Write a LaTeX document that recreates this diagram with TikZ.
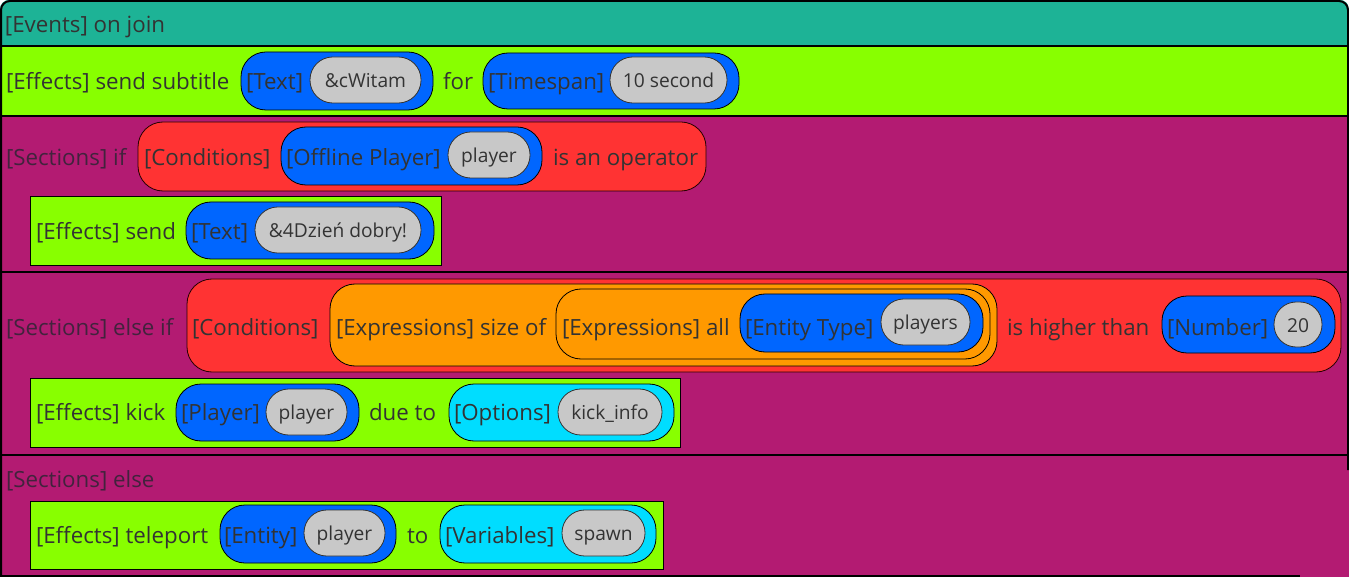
\documentclass[tikz,border=0pt]{standalone}
\usepackage{fontspec}
\setmainfont{Open Sans}
\definecolor{evteal}{HTML}{1DB396}
\definecolor{effgreen}{HTML}{88FF00}
\definecolor{secpurple}{HTML}{B31B72}
\definecolor{condred}{HTML}{FF3333}
\definecolor{typeblue}{HTML}{0066FF}
\definecolor{exporange}{HTML}{FF9900}
\definecolor{optcyan}{HTML}{00DDFF}
\definecolor{valgray}{HTML}{C8C8C8}
\definecolor{ink}{HTML}{333333}
\definecolor{secink}{HTML}{42233D}

% a rounded block spanning (x1,y1)-(x2,y2), corner radius capped at 25
\newcommand\blk[6]{%
  \pgfmathsetmacro\bw{#5-#3}%
  \pgfmathsetmacro\bh{#6-#4}%
  \pgfmathsetmacro\br{min(25,\bh/2-0.3)}%
  \node[#2, minimum width=\bw pt, minimum height=\bh pt, rounded corners=\br pt]
    (#1) at ({(#3+#5)/2},{(#4+#6)/2}) {};}
% a grey value pill with its text
\newcommand\val[6]{%
  \pgfmathsetmacro\bw{#5-#3}%
  \pgfmathsetmacro\bh{#6-#4}%
  \pgfmathsetmacro\br{min(25,\bh/2-0.3)}%
  \node[value, minimum width=\bw pt, minimum height=\bh pt, rounded corners=\br pt]
    (#1) at ({(#3+#5)/2},{(#4+#6)/2}) {#2};}

\begin{document}
\begin{tikzpicture}[x=1pt,y=-1pt,
  every node/.style={inner sep=0pt, outer sep=0pt},
  band/.style={rectangle, anchor=north west},
  sepline/.style={line width=2pt, black},
  effbox/.style={rectangle, fill=effgreen, draw=black, line width=1pt},
  cond/.style={rectangle, fill=condred, draw=black!85!red, line width=0.8pt},
  typ/.style={rectangle, fill=typeblue, draw=black, line width=0.8pt},
  expr/.style={rectangle, fill=exporange, draw=black, line width=0.8pt},
  opt/.style={rectangle, fill=optcyan, draw=black, line width=0.8pt},
  value/.style={rectangle, fill=valgray, draw=black!80, line width=0.8pt,
    text=ink, font=\fontsize{19.2}{23}\selectfont, text height=15pt, text depth=0pt},
  txt/.style={anchor=base west, text=ink, font=\fontsize{22.3}{27}\selectfont},
  sec/.style={txt, text=secink},
]
\useasboundingbox (0,0) rectangle (1349,577);

% background bands
\begin{scope}
  \clip[rounded corners=9pt] (0,0) rectangle (1349,590);
  \node[band, fill=evteal, minimum width=1349pt, minimum height=47pt] (evband) at (0,0) {};
  \node[band, fill=effgreen, minimum width=1349pt, minimum height=70pt] (subband) at (0,46.5) {};
  \node[band, fill=secpurple, minimum width=1349pt, minimum height=156pt] (ifband) at (0,116.5) {};
  \node[band, fill=secpurple, minimum width=1349pt, minimum height=182pt] (elifband) at (0,272.5) {};
  \node[band, fill=secpurple, minimum width=1349pt, minimum height=123pt] (elseband) at (0,454.5) {};
\end{scope}
\draw[sepline] (subband.north west) -- (subband.north east);
\draw[sepline] (ifband.north west) -- (ifband.north east);
\draw[sepline] (elifband.north west) -- (elifband.north east);
\draw[sepline] (elseband.north west) -- (elseband.north east);
\draw[line width=2pt, rounded corners=9pt] (1,577) -- (1,1) -- (1348,1) -- (1348,470);
\draw[line width=2pt] (0,576) -- (1300,576);

% event
\node[txt] (ev) at (5,33) {[Events] on join};

% send subtitle
\node[txt] (subt) at (6,90) {[Effects] send subtitle};
\blk{t1}{typ}{241}{52}{433}{110}
\node[txt] (t1l) at (246,90) {[Text]};
\val{t1v}{\&cWitam}{310}{57}{421}{103}
\node[txt] (for) at (443,90) {for};
\blk{ts}{typ}{483}{53}{739}{109}
\node[txt] (tsl) at (488,90) {[Timespan]};
\val{tsv}{10 second}{610}{57}{727}{103}

% if section
\node[sec] (sif) at (6,166) {[Sections] if};
\blk{c1}{cond}{138}{122}{706}{191}
\node[txt] (c1l) at (144,166) {[Conditions]};
\blk{op}{typ}{281}{127}{542}{185}
\node[txt] (opl) at (286,166) {[Offline Player]};
\val{opv}{player}{448}{132}{530}{178}
\node[txt] (isop) at (553,166) {is an operator};

\node[effbox, minimum width=411pt, minimum height=69pt] (send) at (235.5,231.5) {};
\node[txt] (sendl) at (36,240) {[Effects] send};
\blk{t2}{typ}{186}{202}{434}{259}
\node[txt] (t2l) at (191,240) {[Text]};
\val{t2v}{\&4Dzień dobry!}{255}{207}{421}{253}

% else if section
\node[sec] (selif) at (6,335) {[Sections] else if};
\blk{c2}{cond}{187}{279}{1341}{372}
\node[txt] (c2l) at (192,335) {[Conditions]};
\blk{e1}{expr}{330}{284}{997}{366}
\node[txt] (e1l) at (336,335) {[Expressions] size of};
\blk{e2}{expr}{556}{289}{990}{359}
\node[txt] (e2l) at (562,335) {[Expressions] all};
\blk{et}{typ}{740}{294}{983}{352}
\node[txt] (etl) at (745,335) {[Entity Type]};
\val{etv}{players}{881}{299}{970}{345}
\node[txt] (hi) at (1007,335) {is higher than};
\blk{nb}{typ}{1162}{296}{1335}{353}
\node[txt] (nbl) at (1167,335) {[Number]};
\val{nbv}{20}{1274}{302}{1322}{347}

\node[effbox, minimum width=650pt, minimum height=69pt] (kick) at (355,412.5) {};
\node[txt] (kickl) at (36,420) {[Effects] kick};
\blk{pl}{typ}{176}{384}{359}{441}
\node[txt] (pll) at (181,420) {[Player]};
\val{plv}{player}{266}{389}{347}{435}
\node[txt] (due) at (369,420) {due to};
\blk{ok}{opt}{449}{384}{674}{441}
\node[txt] (okl) at (454,420) {[Options]};
\val{okv}{kick\_info}{558}{389}{662}{435}

% else section
\node[sec] (selse) at (6,487) {[Sections] else};
\node[effbox, minimum width=633pt, minimum height=68pt] (tp) at (346.5,535) {};
\node[txt] (tpl) at (36,543) {[Effects] teleport};
\blk{en}{typ}{220}{505}{396}{563}
\node[txt] (enl) at (224,543) {[Entity]};
\val{env}{player}{304}{510}{385}{556}
\node[txt] (to) at (407,543) {to};
\blk{va}{opt}{440}{505}{656}{563}
\node[txt] (val) at (445,543) {[Variables]};
\val{vav}{spawn}{562}{510}{645}{556}
\end{tikzpicture}
\end{document}
